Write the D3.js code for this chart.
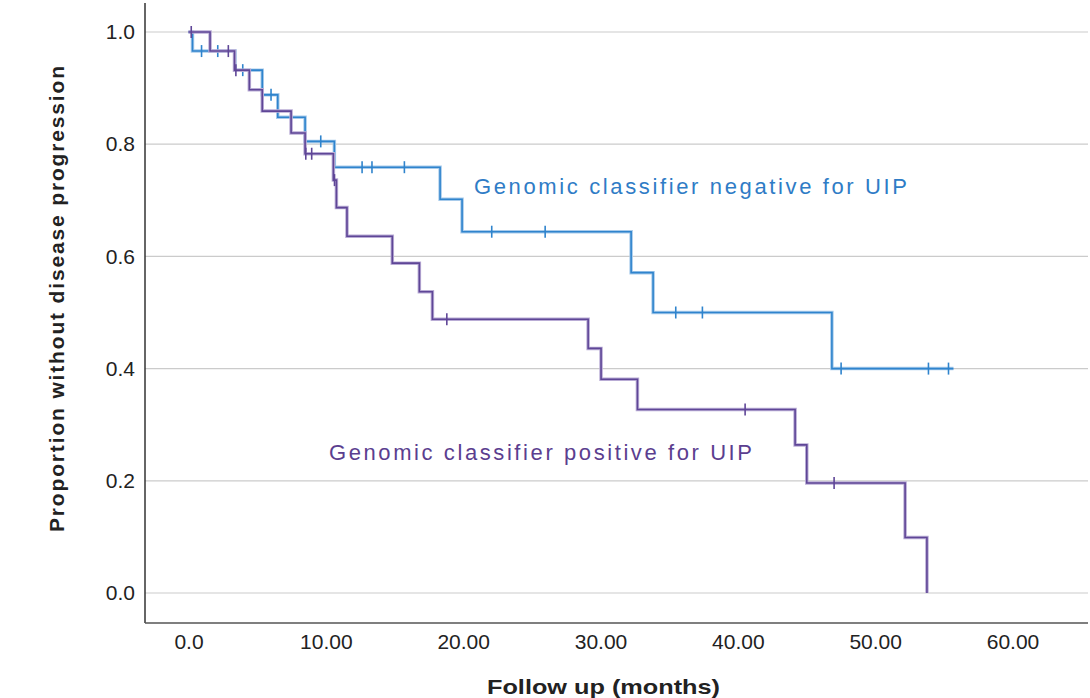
<!DOCTYPE html>
<html>
<head>
<meta charset="utf-8">
<script src="https://cdn.jsdelivr.net/npm/d3@7"></script>
<style>
  body { margin: 0; background: #fff; }
  svg { display: block; font-family: "Liberation Sans", Arial, sans-serif; }
</style>
</head>
<body>
<div id="chart"></div>
<script>
// Kaplan-Meier steps: time of each drop (months) and proportion after it
const negTimes = [0.29, 3.39, 5.37, 6.50, 8.49, 10.62, 18.32, 19.92, 32.23, 33.83, 46.85];
const negSurv = [0.966, 0.932, 0.888, 0.848, 0.805, 0.759, 0.702, 0.644, 0.571, 0.500, 0.400];
const negCensor = [0.95, 2.13, 3.95, 6.01, 9.63, 12.64, 13.36, 15.72, 22.08, 25.97, 35.48, 37.42, 47.52, 53.88, 55.34];
const negEnd = 55.7;

const posTimes = [1.57, 3.35, 4.43, 5.37, 7.47, 8.49, 10.55, 10.77, 11.54, 14.84, 16.81, 17.76, 29.10, 30.04, 32.69, 44.17, 45.02, 52.18, 53.77];
const posSurv = [0.966, 0.932, 0.897, 0.859, 0.820, 0.783, 0.736, 0.687, 0.636, 0.588, 0.537, 0.488, 0.436, 0.381, 0.327, 0.264, 0.196, 0.099, 0.0];
const posCensor = [0.2, 2.90, 3.45, 8.54, 8.97, 10.63, 18.81, 40.53, 47.01];

const xTicks = [0, 10, 20, 30, 40, 50, 60];
const yTicks = [0, 0.2, 0.4, 0.6, 0.8, 1.0];

const width = 1090, height = 698;
const plot = {left: 145, right: 1088, top: 3, bottom: 623};

const x = d3.scaleLinear().domain([0, 60]).range([188.5, 1012.5]);
const y = d3.scaleLinear().domain([0, 1]).range([593, 32]);

const svg = d3.select('#chart').append('svg')
  .attr('width', width)
  .attr('height', height);

// gridlines
svg.append('g')
  .selectAll('line')
  .data(yTicks)
  .enter().append('line')
  .attr('x1', plot.left).attr('x2', plot.right)
  .attr('y1', d => y(d)).attr('y2', d => y(d))
  .attr('stroke', '#cbcbcb')
  .attr('stroke-width', 1.2);

// y axis
const yAxis = svg.append('g')
  .attr('transform', 'translate(' + plot.left + ',0)')
  .call(d3.axisLeft(y).tickValues(yTicks).tickFormat(d3.format('.1f')).tickSize(0).tickPadding(10));
yAxis.select('.domain').remove();
yAxis.selectAll('text').attr('font-size', 21).attr('fill', '#222').attr('font-family', '"Liberation Sans", Arial, sans-serif');

// x axis
const xAxis = svg.append('g')
  .attr('transform', 'translate(0,' + plot.bottom + ')')
  .call(d3.axisBottom(x).tickValues(xTicks).tickFormat(d => d === 0 ? '0.0' : d3.format('.2f')(d)).tickSize(0).tickPadding(11));
xAxis.select('.domain').remove();
xAxis.selectAll('text').attr('font-size', 21).attr('fill', '#222').attr('font-family', '"Liberation Sans", Arial, sans-serif');

// axis lines
svg.append('line')
  .attr('x1', plot.left).attr('x2', plot.left)
  .attr('y1', plot.top).attr('y2', plot.bottom)
  .attr('stroke', '#333').attr('stroke-width', 1.5);
svg.append('line')
  .attr('x1', plot.left).attr('x2', plot.right)
  .attr('y1', plot.bottom).attr('y2', plot.bottom)
  .attr('stroke', '#555').attr('stroke-width', 1.5);

// build step points and find value at a censor time
function stepPoints(times, surv, end) {
  const pts = [[0, 1]];
  times.forEach((t, i) => pts.push([t, surv[i]]));
  if (end !== undefined) pts.push([end, surv[surv.length - 1]]);
  return pts;
}
function valueAt(times, surv, t) {
  let v = 1;
  times.forEach((tt, i) => { if (tt <= t) v = surv[i]; });
  return v;
}

const stepLine = d3.line()
  .x(d => x(d[0]))
  .y(d => y(d[1]))
  .curve(d3.curveStepAfter);

const groups = [
  {times: negTimes, surv: negSurv, censor: negCensor, end: negEnd, color: '#2f84cd', halo: '#a8cbeb'},
  {times: posTimes, surv: posSurv, censor: posCensor, end: undefined, color: '#5f4697', halo: '#b9acd5'}
];

groups.forEach(g => {
  const pts = stepPoints(g.times, g.surv, g.end);
  svg.append('path')
    .attr('d', stepLine(pts))
    .attr('fill', 'none')
    .attr('stroke', g.halo)
    .attr('stroke-width', 3.5);
  svg.append('path')
    .attr('d', stepLine(pts))
    .attr('fill', 'none')
    .attr('stroke', g.color)
    .attr('stroke-width', 1.6);
  svg.append('g')
    .selectAll('line')
    .data(g.censor)
    .enter().append('line')
    .attr('x1', d => x(d)).attr('x2', d => x(d))
    .attr('y1', d => y(valueAt(g.times, g.surv, d)) - 6)
    .attr('y2', d => y(valueAt(g.times, g.surv, d)) + 6)
    .attr('stroke', g.color)
    .attr('stroke-width', 1.6);
});

// curve labels
svg.append('text')
  .attr('x', 474).attr('y', 194)
  .attr('font-size', 22)
  .attr('fill', '#2f7cc6')
  .attr('textLength', 433).attr('lengthAdjust', 'spacing')
  .text('Genomic classifier negative for UIP');
svg.append('text')
  .attr('x', 329).attr('y', 460)
  .attr('font-size', 22)
  .attr('fill', '#5b3e8f')
  .attr('textLength', 423).attr('lengthAdjust', 'spacing')
  .text('Genomic classifier positive for UIP');

// axis titles
svg.append('text')
  .attr('x', 487).attr('y', 694)
  .attr('font-size', 21).attr('font-weight', 'bold')
  .attr('fill', '#222')
  .attr('textLength', 233).attr('lengthAdjust', 'spacingAndGlyphs')
  .text('Follow up (months)');
svg.append('text')
  .attr('transform', 'translate(64,532) rotate(-90)')
  .attr('font-size', 21).attr('font-weight', 'bold')
  .attr('fill', '#222')
  .attr('textLength', 466).attr('lengthAdjust', 'spacing')
  .text('Proportion without disease progression');
</script>
</body>
</html>
